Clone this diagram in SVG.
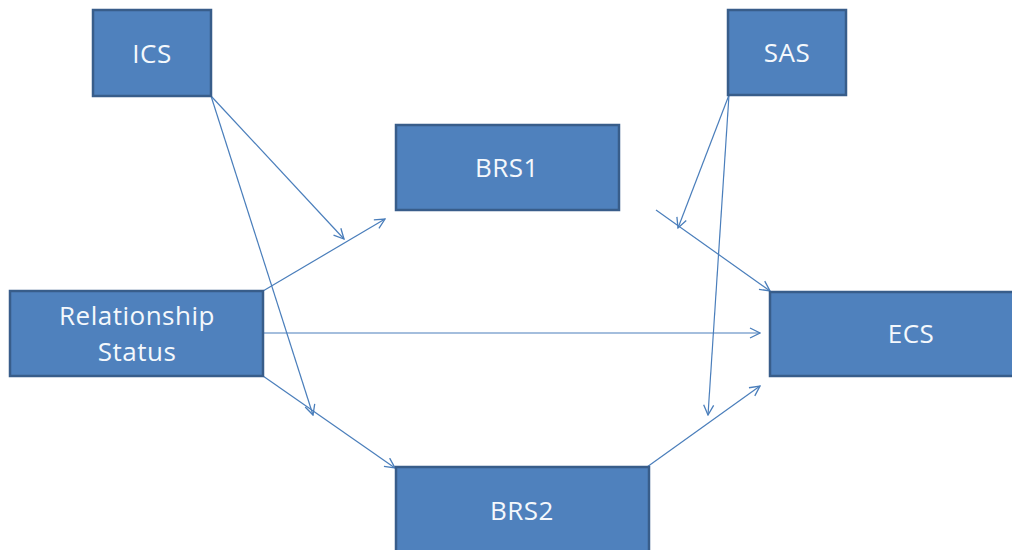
<svg xmlns="http://www.w3.org/2000/svg" width="1012" height="550" viewBox="0 0 1012 550">
<style>
.box{fill:#4F81BD;stroke:#385D8A;stroke-width:2.5}
.lbl{fill:#f4f8fc;font-family:"Open Sans","Liberation Sans",sans-serif;font-size:26px;letter-spacing:0.5px;text-anchor:middle}
.ln{stroke:#4A7EBB;stroke-width:1.2;fill:none;marker-end:url(#ah)}
</style>
<defs>
<marker id="ah" viewBox="0 0 12 12" refX="11" refY="6" markerWidth="12" markerHeight="12" markerUnits="userSpaceOnUse" orient="auto">
<path d="M1,1 L11,6 L1,11" fill="none" stroke="#4A7EBB" stroke-width="1.3"/>
</marker>
</defs>
<rect width="1012" height="550" fill="#fff"/>
<g id="connectors">
<line class="ln" x1="211" y1="96" x2="344" y2="239"/>
<line class="ln" x1="211" y1="96" x2="313" y2="415"/>
<line class="ln" x1="263" y1="291" x2="385" y2="219"/>
<line class="ln" x1="263" y1="333" x2="760" y2="333"/>
<line class="ln" x1="263" y1="376" x2="395" y2="468"/>
<line class="ln" x1="656" y1="210" x2="770" y2="291"/>
<line class="ln" x1="729" y1="95" x2="678" y2="228"/>
<line class="ln" x1="729" y1="95" x2="708" y2="415"/>
<line class="ln" x1="647" y1="467" x2="760" y2="386"/>
</g>
<g id="ICS"><rect class="box" x="93" y="10" width="118" height="86"/><text class="lbl" x="152" y="63">ICS</text></g>
<g id="SAS"><rect class="box" x="728" y="10" width="118" height="85"/><text class="lbl" x="787" y="62">SAS</text></g>
<g id="BRS1"><rect class="box" x="396" y="125" width="223" height="85"/><text class="lbl" x="507" y="177">BRS1</text></g>
<g id="RelationshipStatus"><rect class="box" x="10" y="291" width="253" height="85"/><text class="lbl" x="137" y="325">Relationship</text><text class="lbl" x="137" y="361">Status</text></g>
<g id="ECS"><rect class="box" x="770" y="292" width="245" height="84"/><text class="lbl" x="911" y="343">ECS</text></g>
<g id="BRS2"><rect class="box" x="396" y="467" width="253" height="86"/><text class="lbl" x="522" y="520">BRS2</text></g>
</svg>
